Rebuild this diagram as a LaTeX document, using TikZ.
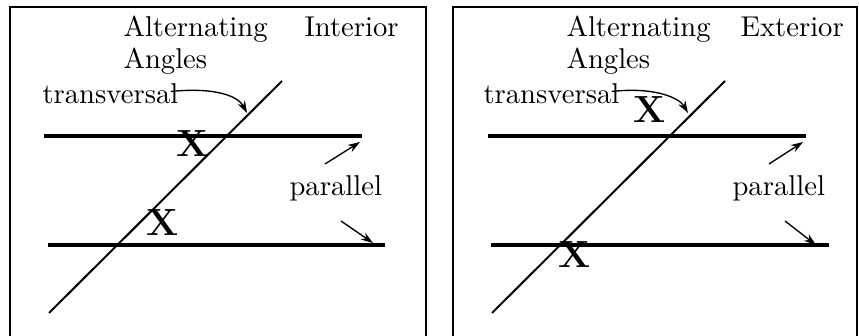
\documentclass[tikz,border=0pt]{standalone}
\usepackage{tikz}
\usetikzlibrary{arrows.meta, positioning}

\begin{document}
\begin{tikzpicture}[x=0.37pt, y=-0.37pt,
    frame/.style={line width=1pt},
    parline/.style={line width=1.3pt},
    transline/.style={line width=0.75pt},
    ptr/.style={line width=0.5pt, -{Stealth[length=4.5pt, width=3pt]}},
    word/.style={anchor=base west, inner sep=0pt, font=\fontsize{10.6}{12.7}\selectfont},
    xmark/.style={inner sep=0pt, font=\fontsize{14}{16}\selectfont\bfseries}]
      \useasboundingbox (0,0) rectangle (859,336);

      % Left panel: interior angles
      \draw[frame] (10,336) -- (10,7) -- (426,7) -- (426,336);
      \node[word] (altL) at (123,37) {Alternating};
      \node[word] (intL) at (304,37) {Interior};
      \node[word] (angL) at (123,69) {Angles};
      \node[word] (trL) at (42,104) {transversal};
      \node[word] (parL) at (289,196) {parallel};

      \coordinate (tL1) at (49,313);
      \coordinate (tL2) at (282,81);
      \coordinate (uL1) at (44,136);
      \coordinate (uL2) at (362,136);
      \coordinate (lL1) at (48,245);
      \coordinate (lL2) at (385,245);
      \draw[transline] (tL1) -- (tL2);
      \draw[parline] (uL1) -- (uL2);
      \draw[parline] (lL1) -- (lL2);

      \node[xmark] (xL1) at (193,144) {X};
      \node[xmark] (xL2) at (163,223) {X};

      \coordinate (hitL) at (247,113);
      \draw[ptr] ([xshift=-3pt, yshift=1pt]trL.east) .. controls (215,87) and (238,96) .. (hitL);
      \coordinate (puL) at (325,164);
      \coordinate (peL) at (360,142);
      \draw[ptr] (puL) -- (peL);
      \coordinate (pdL) at (341,221);
      \coordinate (qeL) at (373,243);
      \draw[ptr] (pdL) -- (qeL);

      % Right panel: exterior angles
      \draw[frame] (453,336) -- (453,7) -- (857,7) -- (857,336);
      \node[word] (altR) at (566,37) {Alternating};
      \node[word] (extR) at (740,37) {Exterior};
      \node[word] (angR) at (566,69) {Angles};
      \node[word] (trR) at (483,104) {transversal};
      \node[word] (parR) at (732,196) {parallel};

      \coordinate (tR1) at (492,313);
      \coordinate (tR2) at (725,81);
      \coordinate (uR1) at (488,136);
      \coordinate (uR2) at (806,136);
      \coordinate (lR1) at (491,245);
      \coordinate (lR2) at (829,245);
      \draw[transline] (tR1) -- (tR2);
      \draw[parline] (uR1) -- (uR2);
      \draw[parline] (lR1) -- (lR2);

      \node[xmark] (xR1) at (650,110) {X};
      \node[xmark] (xR2) at (575,255) {X};

      \coordinate (hitR) at (688,113);
      \draw[ptr] ([xshift=-3pt, yshift=1pt]trR.east) .. controls (650,87) and (678,96) .. (hitR);
      \coordinate (puR) at (769,164);
      \coordinate (peR) at (803,142);
      \draw[ptr] (puR) -- (peR);
      \coordinate (pdR) at (785,221);
      \coordinate (qeR) at (816,245);
      \draw[ptr] (pdR) -- (qeR);
    \end{tikzpicture}
\end{document}
